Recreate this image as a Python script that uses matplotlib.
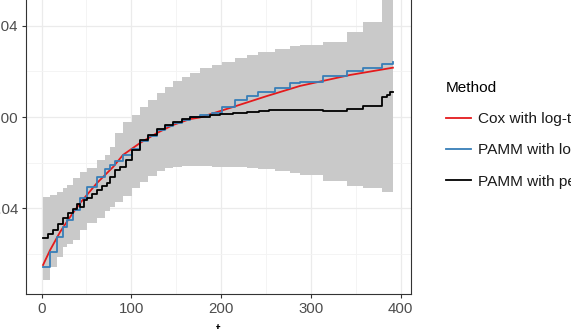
import numpy as np
import matplotlib
matplotlib.use("Agg")
import matplotlib.pyplot as plt
from matplotlib.ticker import MultipleLocator

# Tiempos y valores
ribbon_t = [1.7, 9.5, 17.3, 24.0, 28.4, 35.1, 42.9, 50.7, 61.8, 70.8, 76.3, 81.9,
            90.8, 100.8, 109.7, 118.7, 128.7, 137.6, 146.5, 156.6, 165.5, 176.6,
            190.0, 201.1, 215.6, 229.0, 241.3, 260.2, 276.9, 288.0, 313.6, 340.4,
            358.2, 379.4, 391.6]
ribbon_hi = [-0.0350, -0.0342, -0.0329, -0.0311, -0.0298, -0.0267, -0.0241, -0.0224,
             -0.0188, -0.0166, -0.0131, -0.0070, -0.0022, 0.0009, 0.0044, 0.0074,
             0.0105, 0.0131, 0.0158, 0.0175, 0.0193, 0.0215, 0.0228, 0.0241, 0.0258,
             0.0272, 0.0285, 0.0298, 0.0311, 0.0315, 0.0329, 0.0372, 0.0416, 0.0600,
             0.0600]
ribbon_lo = [-0.0714, -0.0657, -0.0613, -0.0569, -0.0556, -0.0539, -0.0495, -0.0464,
             -0.0442, -0.0412, -0.0394, -0.0372, -0.0346, -0.0311, -0.0285, -0.0258,
             -0.0237, -0.0223, -0.0219, -0.0215, -0.0215, -0.0215, -0.0219, -0.0219,
             -0.0219, -0.0223, -0.0228, -0.0237, -0.0245, -0.0254, -0.0280, -0.0302,
             -0.0311, -0.0329, -0.0329]
pamm_log = [-0.0657, -0.0591, -0.0526, -0.0482, -0.0451, -0.0407, -0.0355, -0.0307,
            -0.0263, -0.0228, -0.0210, -0.0193, -0.0166, -0.0140, -0.0105, -0.0083,
            -0.0057, -0.0039, -0.0026, -0.0013, 0.0000, 0.0009, 0.0018, 0.0044,
            0.0074, 0.0094, 0.0110, 0.0125, 0.0149, 0.0153, 0.0180, 0.0203, 0.0216,
            0.0234, 0.0241]

cox_t = [1.7, 9.5, 20.6, 31.8, 42.9, 61.8, 79.7, 90.8, 109.7, 128.7, 146.5, 165.5,
         176.6, 213.4, 251.3, 288.0, 343.7, 391.6]
cox_log = [-0.0648, -0.0583, -0.0504, -0.0438, -0.0377, -0.0289, -0.0219, -0.0166,
           -0.0114, -0.0070, -0.0035, -0.0009, -0.0002, 0.0044, 0.0092, 0.0136,
           0.0184, 0.0216]

pen_t = [1.7, 7.2, 12.8, 18.4, 24.0, 29.5, 35.1, 39.6, 42.9, 47.4, 50.7, 56.3, 61.8,
         67.4, 72.9, 76.3, 81.9, 87.5, 94.2, 100.8, 109.7, 118.7, 128.7, 137.6, 146.5,
         156.6, 165.5, 176.6, 187.7, 198.9, 213.4, 229.0, 242.5, 253.6, 288.0, 313.6,
         340.4, 358.2, 379.4, 385.0, 388.3, 391.6]
pamm_pen = [-0.0530, -0.0512, -0.0495, -0.0469, -0.0442, -0.0420, -0.0403, -0.0381,
            -0.0394, -0.0364, -0.0355, -0.0337, -0.0320, -0.0302, -0.0289, -0.0263,
            -0.0232, -0.0219, -0.0188, -0.0145, -0.0101, -0.0079, -0.0053, -0.0035,
            -0.0022, -0.0009, 0.0000, 0.0002, 0.0009, 0.0012, 0.0016, 0.0023, 0.0028,
            0.0031, 0.0031, 0.0026, 0.0034, 0.0048, 0.0089, 0.0096, 0.0108, 0.0110]

labels = ["Cox with log-time", "PAMM with log-time", "PAMM with penalized spline"]

plt.rcParams['font.family'] = ['Liberation Sans', 'DejaVu Sans']

fig = plt.figure(figsize=(5.71, 3.29), dpi=100)
W, H = 571, 329
# el panel sale por arriba, como en la figura recortada
ax = fig.add_axes([26 / W, 35 / H, 385 / W, 309 / H])

ax.fill_between(ribbon_t, ribbon_lo, ribbon_hi, step='post', color='#C9C9C9', lw=0, zorder=1)
l1, = ax.plot(cox_t, cox_log, color='#E41A1C', lw=1.3, zorder=3)
l2, = ax.plot(ribbon_t, pamm_log, color='#377EB8', lw=1.3, drawstyle='steps-post', zorder=3)
l3, = ax.plot(pen_t, pamm_pen, color='black', lw=1.3, drawstyle='steps-post', zorder=3)

ax.set_xlim(-17.3, 411.7)
ax.set_ylim(-0.0775, 0.0578)
ax.xaxis.set_major_locator(MultipleLocator(100))
ax.xaxis.set_minor_locator(MultipleLocator(50))
ax.yaxis.set_major_locator(MultipleLocator(0.04))
ax.yaxis.set_minor_locator(MultipleLocator(0.02))
ax.yaxis.set_major_formatter(plt.FuncFormatter(lambda v, p: "%.2f" % v))
ax.grid(which='major', color='#EBEBEB', lw=0.9, zorder=0)
ax.grid(which='minor', color='#F3F3F3', lw=0.6, zorder=0)
ax.set_axisbelow(True)
ax.tick_params(which='major', length=3, width=0.8, color='#333333', labelcolor='#4D4D4D',
               labelsize=10.8, pad=2.5)
ax.tick_params(which='minor', length=0)
for s in ax.spines.values():
    s.set_color('#333333')
    s.set_linewidth(0.8)
ax.set_xlabel("t", fontsize=11.5, labelpad=5)

leg = fig.legend([l1, l2, l3], labels, title="Method", loc='upper left',
                 bbox_to_anchor=(432 / W, 1 - 67 / H), frameon=False, fontsize=11.1,
                 title_fontsize=11.1, handlelength=1.6, handletextpad=0.5,
                 labelspacing=1.12, alignment='left')
for t in leg.get_texts():
    t.set_color('#1A1A1A')

fig.savefig("out.png", dpi=100)
